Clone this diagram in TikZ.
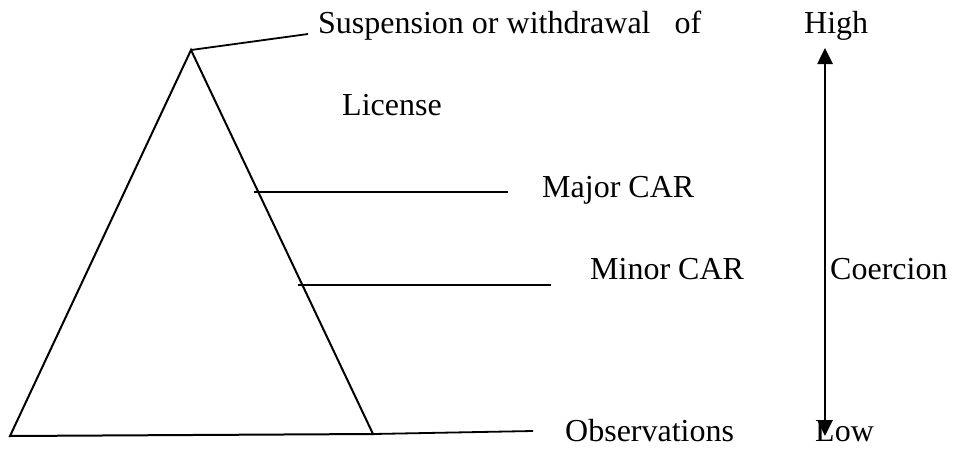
\documentclass[tikz,border=0pt]{standalone}
\usepackage{fontspec}
\setmainfont{Liberation Serif}
\usetikzlibrary{arrows.meta}
\tikzstyle{rung} = [anchor=base west, inner sep=0pt, font=\fontsize{32}{38}\selectfont]
\tikzstyle{edge} = [line width=2pt]
\tikzstyle{leader} = [line width=1.8pt]
\tikzstyle{arrow} = [line width=2.6pt, {Triangle[length=16pt,width=15pt]}-{Triangle[length=16pt,width=15pt]}]

\begin{document}
\begin{tikzpicture}[x=1pt, y=-1pt]
    \useasboundingbox (0,0) rectangle (953,448);

    % pyramid
    \coordinate (apex) at (191,50);
    \coordinate (left) at (10,436);
    \coordinate (right) at (373,434);
    \draw[edge] (left) -- (apex) -- (right) -- cycle;

    % leader lines
    \coordinate (topend) at (308,34);
    \coordinate (majstart) at (254,192);
    \coordinate (majend) at (508,192);
    \coordinate (minstart) at (298,285);
    \coordinate (minend) at (551,285);
    \coordinate (obsend) at (533,431);
    \draw[leader] (apex) -- (topend);
    \draw[leader] (majstart) -- (majend);
    \draw[leader] (minstart) -- (minend);
    \draw[leader] (right) -- (obsend);

    % labels
    \node[rung] (susp) at (318,33) {Suspension or withdrawal~~~of};
    \node[rung] (lic) at (342,115) {License};
    \node[rung] (major) at (542,197) {Major CAR};
    \node[rung] (minor) at (590,279) {Minor CAR};
    \node[rung] (obs) at (565,441) {Observations};

    % coercion scale
    \coordinate (scaletop) at (825,48);
    \coordinate (scalebot) at (825,436);
    \draw[arrow] (scalebot) -- (scaletop);
    \node[rung] (high) at (804,33) {High};
    \node[rung] (coer) at (830,279) {Coercion};
    \node[rung] (low) at (815,441) {Low};
\end{tikzpicture}
\end{document}
